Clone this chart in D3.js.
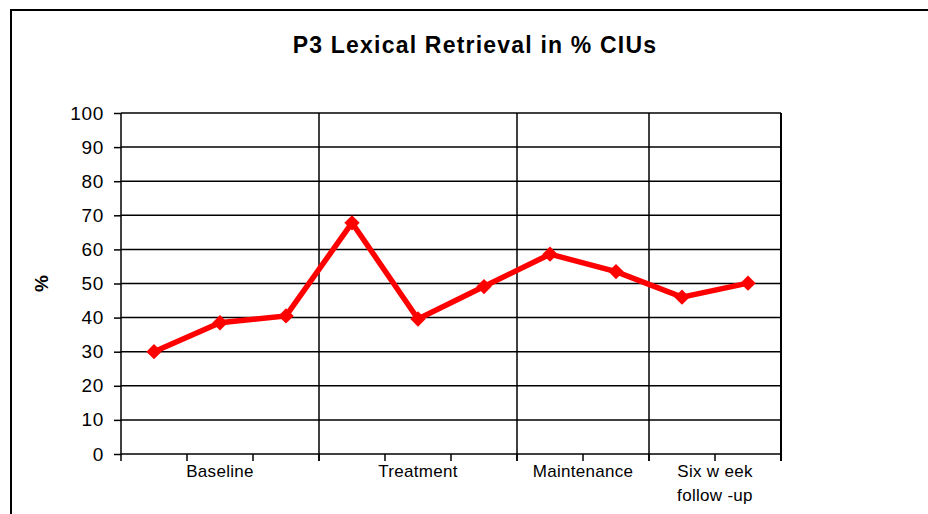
<!DOCTYPE html>
<html><head><meta charset="utf-8">
<script src="https://cdn.jsdelivr.net/npm/d3@7"></script>
<style>
html,body{margin:0;padding:0;background:#fff;}
svg{display:block;font-family:"Liberation Sans",Arial,sans-serif;}
</style></head>
<body>
<svg id="chart" width="928" height="514"></svg>
<script>
// ---- data ----
const sessions = ["B1","B2","B3","T1","T2","T3","M1","M2","F1","F2"];
const values = [30.0, 38.5, 40.5, 67.8, 39.6, 49.1, 58.6, 53.5, 46.0, 50.1];
const phaseNames = [["Baseline"],["Treatment"],["Maintenance"],["Six w eek","follow -up"]];
const phaseLengths = [3, 3, 2, 2];
const yTicks = [0,10,20,30,40,50,60,70,80,90,100];
const title = "P3 Lexical Retrieval in % CIUs";
const yLabel = "%";

(function(){
// ---- layout ----
const svg = d3.select("#chart");
const pL = 121, pR = 781, pT = 113, pB = 454;

const x = d3.scaleBand().domain(sessions).range([pL, pR]).paddingInner(0).paddingOuter(0);
const y = d3.scaleLinear().domain([0, 100]).range([pB, pT]);
const bw = x.bandwidth();

// outer frame (cut at right/bottom)
svg.append("path")
  .attr("d", `M11,${pB+80} L11,10 L940,10`)
  .attr("fill","none").attr("stroke","#000").attr("stroke-width",2);

// title
svg.append("text").attr("x", 475).attr("y", 53).attr("text-anchor","middle")
  .attr("font-size", 23).attr("font-weight","bold").attr("letter-spacing", 1.2)
  .text(title);

// gridlines
svg.append("g").selectAll("line").data(yTicks).join("line")
  .attr("x1", pL).attr("x2", pR)
  .attr("y1", d => y(d)).attr("y2", d => y(d))
  .attr("stroke","#000").attr("stroke-width",1.5);

// y axis
const yAxis = d3.axisLeft(y).tickValues(yTicks).tickSize(7).tickPadding(10);
const gy = svg.append("g").attr("transform", `translate(${pL},0)`).call(yAxis);
gy.select(".domain").attr("stroke","#000").attr("stroke-width",1.5)
  .attr("d", `M0,${pT}V${pB+7}`);
gy.selectAll(".tick line").attr("stroke","#000").attr("stroke-width",1.5);
gy.selectAll(".tick text").attr("font-size", 19).attr("fill","#000")
  .attr("letter-spacing", 0.7)
  .attr("font-family","Liberation Sans, Arial, sans-serif");

// phase boundaries
const cum = d3.cumsum(phaseLengths);
const starts = [0, ...Array.from(cum).slice(0, -1)];
const boundaryX = Array.from(cum).map(c => c < sessions.length ? x(sessions[c]) : pR);
svg.append("g").selectAll("line").data(boundaryX).join("line")
  .attr("x1", d => d).attr("x2", d => d)
  .attr("y1", pT).attr("y2", pB + 7)
  .attr("stroke","#000").attr("stroke-width", (d,i) => i === boundaryX.length-1 ? 2 : 1.5);

// x axis ticks at category boundaries
const tickX = sessions.slice(1).map(s => x(s));
svg.append("g").selectAll("line").data(tickX).join("line")
  .attr("x1", d => d).attr("x2", d => d)
  .attr("y1", pB).attr("y2", pB + 7)
  .attr("stroke","#000").attr("stroke-width",1.5);

// phase labels
const lab = svg.append("g").selectAll("text").data(phaseNames).join("text")
  .attr("text-anchor","middle").attr("font-size", 17).attr("fill","#000")
  .attr("letter-spacing", 0.3)
  .attr("x", (d,i) => x(sessions[starts[i]]) + bw * phaseLengths[i] / 2)
  .attr("y", pB + 23);
lab.each(function(d){
  const tx = d3.select(this).attr("x");
  d3.select(this).selectAll("tspan").data(d).join("tspan")
    .attr("x", tx)
    .attr("dy", (t,j) => j === 0 ? 0 : 24)
    .text(t => t);
});

// y label
svg.append("text")
  .attr("transform", `translate(48,${(pT+pB)/2}) rotate(-90)`)
  .attr("text-anchor","middle").attr("font-size", 19).attr("font-weight","bold")
  .text(yLabel);

// series line
const line = d3.line().x((d,i) => x(sessions[i]) + bw/2).y(d => y(d));
svg.append("path").datum(values).attr("d", line)
  .attr("fill","none").attr("stroke","#ff0000").attr("stroke-width",5.5)
  .attr("stroke-linejoin","miter");

// diamond markers
const sym = d3.symbol().type(d3.symbolDiamond2).size(150);
svg.append("g").selectAll("path").data(values).join("path")
  .attr("d", sym)
  .attr("transform", (d,i) => `translate(${x(sessions[i]) + bw/2},${y(d)})`)
  .attr("fill","#ff0000");
})();
</script>
</body></html>
